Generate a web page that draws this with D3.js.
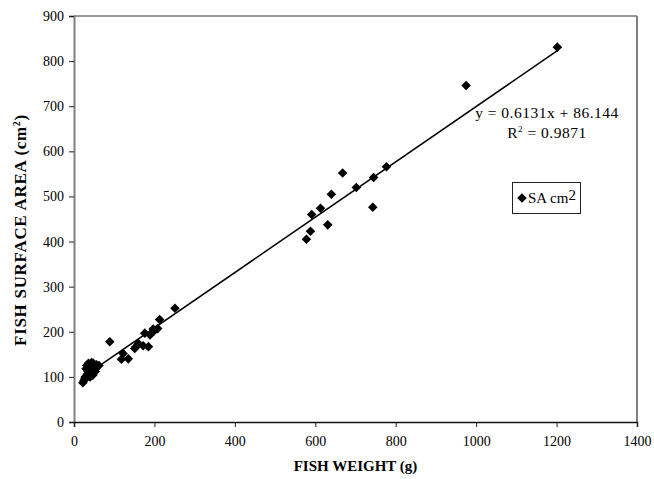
<!DOCTYPE html>
<html>
<head>
<meta charset="utf-8">
<script src="https://cdn.jsdelivr.net/npm/d3@7/dist/d3.min.js"></script>
<style>
  html, body { margin: 0; padding: 0; background: #fff; }
  svg { display: block; }
  text { font-family: "Liberation Serif", "DejaVu Serif", serif; fill: #000; }
</style>
</head>
<body>
<svg id="chart" width="654" height="479"></svg>
<script>
// ---- Data ----
const fishWeight = [
  1202, 975, 777, 745, 743, 702, 668, 640, 631, 613, 591, 588, 578,
  251, 213, 208, 199, 197, 189, 176, 185, 172, 154, 160, 151, 135, 118, 122, 89,
  62, 56, 48, 44, 40, 38, 42, 35, 33, 30, 28, 27, 25, 22, 45, 50, 36, 32, 40, 53, 47
];
const surfaceArea = [
  831, 746, 566, 542, 476, 520, 552, 505, 437, 474, 460, 423, 405,
  252, 227, 207, 202, 206, 193, 197, 167, 169, 167, 174, 163, 140, 139, 152, 178,
  125, 127, 130, 132, 128, 122, 115, 112, 106, 118, 100, 96, 92, 87, 108, 118, 130, 125, 100, 112, 104
];
const trendSlope = 0.6131;
const trendIntercept = 86.144;
const rSquared = "0.9871";
const xTicks = [0, 200, 400, 600, 800, 1000, 1200, 1400];
const yTicks = [0, 100, 200, 300, 400, 500, 600, 700, 800, 900];
const xTitle = "FISH WEIGHT (g)";
const yTitle = "FISH SURFACE AREA (cm";
const legendLabel = "SA cm";

const points = fishWeight.map((w, i) => ({ x: w, y: surfaceArea[i] }));

// ---- Layout ----
const svg = d3.select("#chart");
const mLeft = 74, mRight = 637, mTop = 16, mBottom = 422;

const x = d3.scaleLinear().domain([0, 1400]).range([mLeft, mRight]);
const y = d3.scaleLinear().domain([0, 900]).range([mBottom, mTop]);

// plot border (top & right)
svg.append("line").attr("x1", mLeft).attr("x2", mRight).attr("y1", mTop).attr("y2", mTop)
  .attr("stroke", "#333").attr("stroke-width", 1);
svg.append("line").attr("x1", mRight).attr("x2", mRight).attr("y1", mTop).attr("y2", mBottom)
  .attr("stroke", "#808080").attr("stroke-width", 2);

// Y axis
const yAxis = svg.append("g").attr("transform", `translate(${mLeft},0)`)
  .call(d3.axisLeft(y).tickValues(yTicks).tickSize(5).tickPadding(5).tickFormat(d3.format("d")));
yAxis.select(".domain").attr("stroke", "#808080").attr("stroke-width", 2);
yAxis.selectAll(".tick line").attr("stroke", "#222").attr("stroke-width", 1);
yAxis.selectAll(".tick text").style("font-family", "Liberation Serif, serif").style("font-size", "14px").attr("fill", "#000");

// X axis
const xAxis = svg.append("g").attr("transform", `translate(0,${mBottom})`)
  .call(d3.axisBottom(x).tickValues(xTicks).tickSize(5).tickPadding(9).tickFormat(d3.format("d")));
xAxis.select(".domain").attr("stroke", "#111").attr("stroke-width", 1.5);
xAxis.selectAll(".tick line").attr("stroke", "#222").attr("stroke-width", 1);
xAxis.selectAll(".tick text").style("font-family", "Liberation Serif, serif").style("font-size", "14px").attr("fill", "#000");

// Trendline from regression equation over the data's x range
const xr = d3.extent(fishWeight);
svg.append("line")
  .attr("x1", x(xr[0])).attr("y1", y(trendSlope * xr[0] + trendIntercept))
  .attr("x2", x(xr[1])).attr("y2", y(trendSlope * xr[1] + trendIntercept))
  .attr("stroke", "#000").attr("stroke-width", 1.5);

// Points (diamonds)
const diamond = d3.symbol().type(d3.symbolSquare).size(46);
svg.append("g").selectAll("path").data(points).join("path")
  .attr("d", diamond)
  .attr("transform", d => `translate(${x(d.x)},${y(d.y)}) rotate(45)`)
  .attr("fill", "#000");

// Equation text
svg.append("text").attr("x", 547).attr("y", 118).attr("text-anchor", "middle")
  .style("font-size", "15.5px").style("letter-spacing", "0.5px")
  .text(`y = ${trendSlope}x + ${trendIntercept}`);
const r2 = svg.append("text").attr("x", 547).attr("y", 138).attr("text-anchor", "middle")
  .style("font-size", "15.5px").style("letter-spacing", "0.5px");
r2.append("tspan").text("R");
r2.append("tspan").attr("dy", -6).style("font-size", "9px").text("2");
r2.append("tspan").attr("dy", 6).text(` = ${rSquared}`);

// Legend
svg.append("rect").attr("x", 512.5).attr("y", 182.5).attr("width", 68).attr("height", 31)
  .attr("fill", "#fff").attr("stroke", "#222").attr("stroke-width", 1);
svg.append("path").attr("d", diamond)
  .attr("transform", `translate(522,198) rotate(45)`).attr("fill", "#000");
const lg = svg.append("text").attr("x", 528).attr("y", 203).style("font-size", "15px");
lg.append("tspan").text(legendLabel);
lg.append("tspan").attr("dy", -3).text("2");

// Axis titles
svg.append("text").attr("x", (mLeft + mRight) / 2).attr("y", 471).attr("text-anchor", "middle")
  .style("font-size", "15px").style("font-weight", "bold").text(xTitle);

const yt = svg.append("text").attr("transform", `translate(26,230) rotate(-90)`)
  .attr("text-anchor", "middle").style("font-size", "17px").style("font-weight", "bold")
  .style("letter-spacing", "0.7px");
yt.append("tspan").text(yTitle);
yt.append("tspan").attr("dy", -6).style("font-size", "10px").text("2");
yt.append("tspan").attr("dy", 6).text(")");
</script>
</body>
</html>
